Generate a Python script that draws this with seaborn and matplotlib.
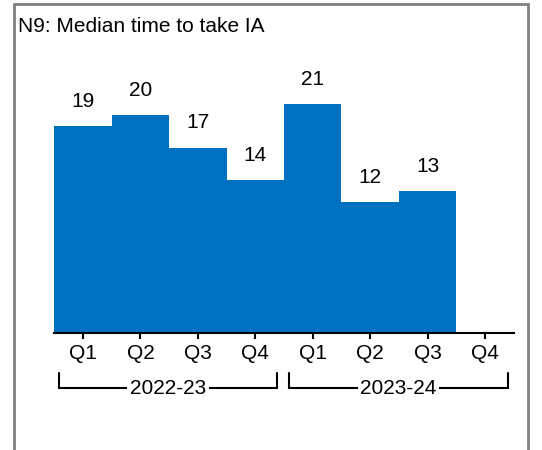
import matplotlib
matplotlib.use("Agg")
import matplotlib.pyplot as plt
import matplotlib.transforms as mtransforms
from matplotlib.patches import Rectangle
import seaborn as sns
import pandas as pd
import numpy as np

title = "N9: Median time to take IA"
years = ["2022-23", "2023-24"]
quarters = ["Q1", "Q2", "Q3", "Q4"]
values = [19, 20, 17, 14, 21, 12, 13, np.nan]

periods = [f"{y} {q}" for y in years for q in quarters]
tick_labels = [q for y in years for q in quarters]
df = pd.DataFrame({"period": periods, "value": values})

sns.set_theme(style="white")
plt.rcParams["font.family"] = ["Liberation Sans", "DejaVu Sans"]

W, H = 542, 450
fig = plt.figure(figsize=(W / 100, H / 100), dpi=100)
ax = fig.add_axes([54.3 / W, 117 / H, 459.4 / W, 272.5 / H])

sns.barplot(data=df, x="period", y="value", order=periods, color="#0070C0",
            saturation=1, width=1.0, ax=ax, linewidth=0)

ax.set_xlim(-0.5, 7.5)
ax.set_ylim(0, 25)
ax.set_xlabel("")
ax.set_ylabel("")
ax.set_yticks([])
ax.set_xticks(range(len(periods)))
ax.set_xticklabels(tick_labels, fontsize=15, color="black")
ax.tick_params(axis="x", direction="out", length=4, width=1.5, color="black", pad=4, bottom=True)
for s in ["top", "right", "left"]:
    ax.spines[s].set_visible(False)
ax.spines["bottom"].set_color("black")
ax.spines["bottom"].set_linewidth(1.5)

for i, v in enumerate(values):
    if not np.isnan(v):
        ax.annotate(f"{int(v)}", (i, v), xytext=(0, 11), textcoords="offset points",
                    ha="center", va="bottom", fontsize=15, color="black")

# group brackets
trans = mtransforms.blended_transform_factory(ax.transData, ax.transAxes)
y_top, y_bot = -40 / 272.5, -55 / 272.5
spans = [(-0.42, 3.38), (3.59, 7.40)]
for (x0, x1), yl in zip(spans, years):
    ax.plot([x0, x0, x1, x1], [y_top, y_bot, y_bot, y_top], color="black",
            lw=1.5, transform=trans, clip_on=False, solid_joinstyle="miter")
    ax.text((x0 + x1) / 2, y_bot, yl, transform=trans, ha="center", va="center",
            fontsize=15, color="black",
            bbox=dict(facecolor="white", edgecolor="none", pad=2))

# title and frame
fig.text(18 / W, 1 - 26 / H, title, fontsize=15, ha="left", va="center", color="black")
fig.patches.append(Rectangle((14 / W, -0.02), (528 - 14) / W, (H - 4) / H + 0.02,
                             transform=fig.transFigure, fill=False,
                             edgecolor="#7f7f7f", linewidth=2))

fig.savefig("out.png", dpi=100, facecolor="white")
